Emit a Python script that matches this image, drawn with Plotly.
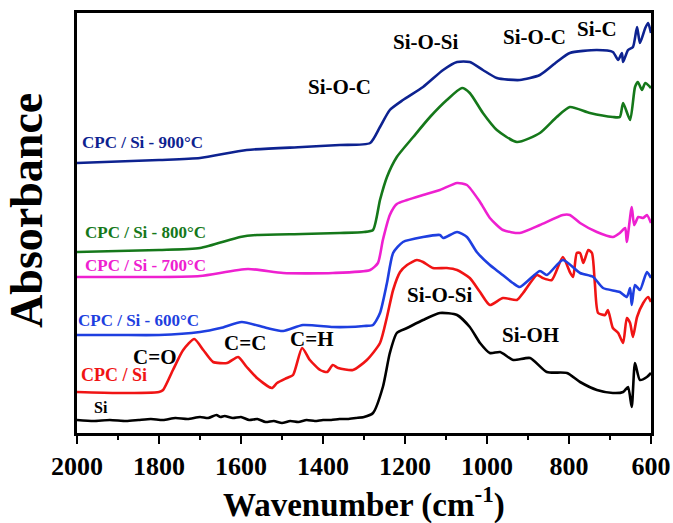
import plotly.graph_objects as go

# ---------------- data ----------------
si_wn = [2000,1960,1920,1880,1850,1820,1790,1760,1730,1700,1680,1660,1650,1640,1620,1600,1580,1560,1540,1520,1500,1480,1460,1440,1420,1400,1380,1360,1340,1320,1300,1278,1254,1237,1220,1195,1156,1115,1073,1042,1017,993,968,936,895,854,805,773,732,693,668,656,647,639,627,610,600]
si_ab = [13,12,13,12,13,14,13,15,14,16,15,18,16,17,15,16,13,14,11,12,10,12,11,13,12,13,13,14,14,15,16,20,46,80,100,105,113,120,118,106,90,80,81,73,75,61,60,51,43,40,41,46,26,70,53,56,60]

cpc_wn = [2000,1900,1800,1790,1766,1741,1714,1692,1668,1634,1607,1586,1561,1525,1512,1488,1473,1451,1432,1407,1390,1376,1363,1327,1293,1261,1244,1229,1212,1195,1171,1156,1132,1098,1073,1042,1017,993,961,927,912,878,864,842,815,798,790,781,773,765,753,744,737,729,712,705,693,680,668,659,651,644,634,619,607,600]
cpc_ab = [41,40,41,43,63,83,94,83,71,70,76,66,55,45,50,55,58,85,73,63,61,68,65,63,73,90,116,143,161,168,173,171,165,165,163,155,141,128,135,133,140,158,155,153,176,161,156,180,180,170,183,180,150,120,118,123,105,100,90,115,110,96,116,130,136,131]

c600_wn = [2000,1900,1800,1700,1650,1598,1537,1497,1449,1376,1340,1300,1278,1261,1244,1229,1205,1156,1115,1107,1073,1049,1025,993,968,937,920,871,854,815,773,741,717,676,659,651,647,639,627,610,600]
c600_ab = [98,98,98,101,105,111,105,102,108,106,106,107,108,120,150,180,191,196,198,195,201,196,181,168,160,150,146,162,158,173,160,156,145,141,136,145,128,148,143,161,155]

c700_wn = [2000,1900,1800,1700,1583,1497,1376,1285,1266,1254,1237,1220,1195,1156,1115,1073,1049,1017,993,961,920,871,815,798,773,732,693,676,663,659,647,641,631,619,610,600]
c700_ab = [156,156,156,157,164,160,160,163,170,193,218,229,233,238,243,250,248,231,215,203,200,208,218,218,210,201,196,200,205,191,226,208,216,215,218,210]

c800_wn = [2000,1800,1700,1602,1561,1450,1359,1300,1278,1261,1244,1220,1180,1139,1098,1061,1042,1010,976,927,871,830,798,749,693,676,668,651,639,632,622,614,600]
c800_ab = [181,183,185,196,198,199,200,201,203,233,256,276,296,316,333,345,340,320,303,291,300,316,326,320,316,316,330,313,346,351,343,350,345]

c900_wn = [2000,1800,1700,1586,1450,1359,1285,1261,1237,1205,1156,1107,1073,1042,1010,976,920,871,830,798,732,693,680,671,668,656,644,634,627,614,607,600]
c900_ab = [270,273,275,283,286,288,290,306,323,333,346,363,371,371,363,355,353,358,371,380,383,381,373,380,371,383,386,406,390,405,410,400]

series_names = ["Si", "CPC / Si", "CPC / Si - 600°C", "CPC / Si - 700°C", "CPC / Si - 800°C", "CPC / Si - 900°C"]
tick_values = [2000, 1800, 1600, 1400, 1200, 1000, 800, 600]
minor_values = [1900, 1700, 1500, 1300, 1100, 900, 700]

# ---------------- styling ----------------
FONT = "Liberation Serif"
colors = ["#000000", "#F01414", "#1E3FE0", "#EE20D0", "#15781A", "#0D2290"]
series = [(si_wn, si_ab), (cpc_wn, cpc_ab), (c600_wn, c600_ab),
          (c700_wn, c700_ab), (c800_wn, c800_ab), (c900_wn, c900_ab)]

fig = go.Figure()
for (wn, ab), name, col in zip(series, series_names, colors):
    fig.add_trace(go.Scatter(x=wn, y=ab, mode="lines", name=name,
                             line=dict(color=col, width=2.6, shape="spline", smoothing=0.6)))

# curve labels
label_pos = [(1941, 26, 16), (1910, 58, 18), (1849, 113, 17), (1834, 168, 17), (1832, 201, 17), (1841, 291, 17)]
for (x, y, fs), name, col in zip(label_pos, series_names, colors):
    fig.add_annotation(x=x, y=y, text="<b>%s</b>" % name, showarrow=False,
                       font=dict(family=FONT, size=fs, color=col))

# band assignments
bands = [("Si-O-C", 1359, 346), ("Si-O-Si", 1149, 391), ("Si-O-C", 883, 396), ("Si-C", 732, 404),
         ("C=O", 1812, 76), ("C=C", 1590, 90), ("C=H", 1429, 94),
         ("Si-O-Si", 1115, 138), ("Si-OH", 895, 98)]
for txt, x, y in bands:
    fig.add_annotation(x=x, y=y, text="<b>%s</b>" % txt, showarrow=False,
                       font=dict(family=FONT, size=21, color="black"))

# axis titles
fig.add_annotation(x=0.5, y=-0.166, xref="paper", yref="paper", xanchor="center", yanchor="middle",
                   text="<b>Wavenumber (cm<sup>-1</sup>)</b>", showarrow=False,
                   font=dict(family=FONT, size=33, color="black"))
fig.add_annotation(x=-0.087, y=0.529, xref="paper", yref="paper", xanchor="center", yanchor="middle",
                   textangle=-90, text="<b>Absorbance</b>", showarrow=False,
                   font=dict(family=FONT, size=46, color="black"))

fig.update_layout(
    width=673, height=523,
    margin=dict(l=77, r=22, t=13, b=90),
    plot_bgcolor="white", paper_bgcolor="white",
    showlegend=False,
    xaxis=dict(range=[2000, 600], tickvals=tick_values,
               ticktext=["<b>%d</b>" % v for v in tick_values],
               ticks="outside", ticklen=8, tickwidth=2, tickcolor="black",
               minor=dict(tickvals=minor_values, ticks="outside",
                          ticklen=4, tickwidth=2, tickcolor="black"),
               showline=True, linewidth=2.5, linecolor="black", mirror=True,
               showgrid=False, zeroline=False, automargin=False,
               tickfont=dict(family=FONT, size=26, color="black")),
    yaxis=dict(range=[0, 420], showticklabels=False, ticks="",
               showline=True, linewidth=2.5, linecolor="black", mirror=True,
               showgrid=False, zeroline=False, automargin=False),
)

fig.write_html("out.html", config={"displayModeBar": False},
               post_script="document.body.style.margin='0';")
